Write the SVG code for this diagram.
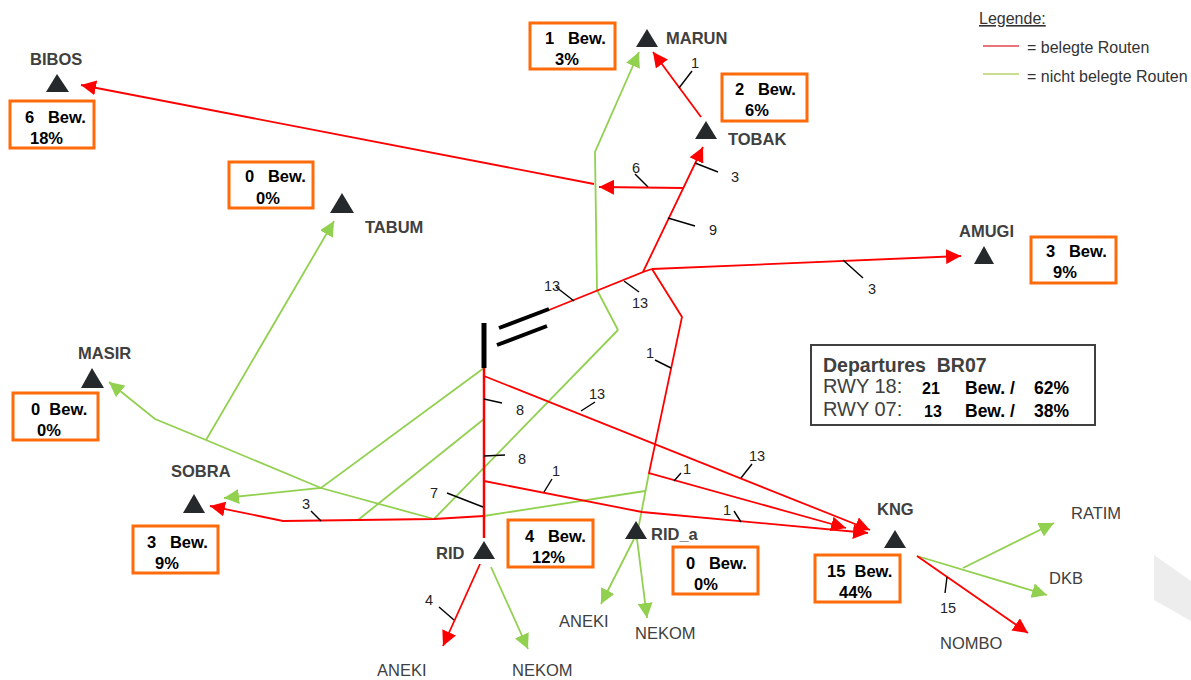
<svg xmlns="http://www.w3.org/2000/svg" width="1191" height="680" viewBox="0 0 1191 680">
<style>
text{font-family:"Liberation Sans",Arial,sans-serif;white-space:pre}
.r{fill:none;stroke:#ff0000;stroke-width:1.8}
.g{fill:none;stroke:#92d050;stroke-width:1.8}
.t{fill:none;stroke:#000;stroke-width:1.4}
.b{fill:#fff;stroke:#ff6a0a;stroke-width:3}
.tri{fill:#25292c}
.n{font-size:16.5px;font-weight:700;fill:#404040}
.w{font-size:16.5px;fill:#404040}
.k{font-size:14.5px;fill:#222}
.v{font-size:16.5px;font-weight:700;fill:#000}
.s{font-size:17.5px;font-weight:700;fill:#000}
.leg{font-size:16px;fill:#333}
.d{font-size:20px;fill:#404040}
</style>
<defs>
<marker id="ar" markerUnits="userSpaceOnUse" markerWidth="17" markerHeight="15" refX="15" refY="7.5" orient="auto"><path d="M0 0L15 7.5L0 15z" fill="#ff0000"/></marker>
<marker id="ag" markerUnits="userSpaceOnUse" markerWidth="17" markerHeight="15" refX="15" refY="7.5" orient="auto"><path d="M0 0L15 7.5L0 15z" fill="#92d050"/></marker>
</defs>
<polygon points="1154,555 1191,581 1191,621 1154,600" fill="#ededed"/>
<g id="connectors">
<g id="green-routes">
<polyline class="g" points="618,330 597,290 595,152 639,52" marker-end="url(#ag)"/>
<line class="g" x1="618" y1="330" x2="434" y2="519"/>
<polyline class="g" points="484,368 321,488 224,498" marker-end="url(#ag)"/>
<line class="g" x1="484" y1="419" x2="358" y2="520"/>
<polyline class="g" points="434,519 321,488 206,440 155,419 109,382" marker-end="url(#ag)"/>
<line class="g" x1="206" y1="440" x2="334" y2="221" marker-end="url(#ag)"/>
<line class="g" x1="484" y1="516" x2="645" y2="491"/>
<line class="g" x1="649" y1="473" x2="636" y2="540"/>
<line class="g" x1="634" y1="539" x2="601" y2="604" marker-end="url(#ag)"/>
<line class="g" x1="637" y1="539" x2="647" y2="618" marker-end="url(#ag)"/>
<line class="g" x1="491" y1="567" x2="528" y2="649" marker-end="url(#ag)"/>
<line class="g" x1="917" y1="556" x2="1047" y2="595" marker-end="url(#ag)"/>
<line class="g" x1="963" y1="568" x2="1054" y2="523" marker-end="url(#ag)"/>
</g>
<g id="red-routes">
<line class="r" x1="484" y1="368" x2="484" y2="538" style="stroke-width:2.5"/>
<line class="r" x1="484" y1="376" x2="870" y2="530" marker-end="url(#ar)"/>
<polyline class="r" points="484,481 642,512 868,533" marker-end="url(#ar)"/>
<polyline class="r" points="652,269 682,317 649,473 846,528" marker-end="url(#ar)"/>
<polyline class="r" points="549,310 643,272 703,147" marker-end="url(#ar)"/>
<line class="r" x1="643" y1="272" x2="652" y2="269"/>
<line class="r" x1="652" y1="269" x2="961" y2="256" marker-end="url(#ar)"/>
<line class="r" x1="683" y1="188" x2="599" y2="187" marker-end="url(#ar)"/>
<line class="r" x1="594" y1="184" x2="81" y2="85" marker-end="url(#ar)"/>
<line class="r" x1="701" y1="117" x2="653" y2="52" marker-end="url(#ar)"/>
<polyline class="r" points="484,516 434,519 283,521 210,506" marker-end="url(#ar)"/>
<line class="r" x1="480" y1="564" x2="443" y2="646" marker-end="url(#ar)"/>
<line class="r" x1="917" y1="556" x2="1028" y2="633" marker-end="url(#ar)"/>
</g>
<g id="ticks">
<line class="t" x1="679" y1="88" x2="692" y2="71"/>
<line class="t" x1="695" y1="163" x2="718" y2="172"/>
<line class="t" x1="668" y1="218" x2="695" y2="226"/>
<line class="t" x1="648" y1="187" x2="635" y2="174"/>
<line class="t" x1="843" y1="260" x2="863" y2="278"/>
<line class="t" x1="574" y1="301" x2="556" y2="287"/>
<line class="t" x1="624" y1="281" x2="639" y2="292"/>
<line class="t" x1="671" y1="368" x2="655" y2="360"/>
<line class="t" x1="484" y1="399" x2="502" y2="403"/>
<line class="t" x1="484" y1="456" x2="505" y2="455"/>
<line class="t" x1="483" y1="507" x2="447" y2="493"/>
<line class="t" x1="321" y1="521" x2="311" y2="511"/>
<line class="t" x1="544" y1="492" x2="552" y2="479"/>
<line class="t" x1="581" y1="411" x2="595" y2="402"/>
<line class="t" x1="741" y1="478" x2="752" y2="464"/>
<line class="t" x1="674" y1="481" x2="681" y2="473"/>
<line class="t" x1="741" y1="522" x2="734" y2="511"/>
<line class="t" x1="454" y1="620" x2="439" y2="607"/>
<line class="t" x1="947" y1="577" x2="945" y2="593"/>
</g>
<g id="runways" stroke="#000" fill="none">
<line x1="484" y1="323" x2="484" y2="368" stroke-width="5"/>
<line x1="499" y1="328" x2="549" y2="309" stroke-width="4"/>
<line x1="497" y1="345" x2="547" y2="326" stroke-width="4"/>
</g>
</g>
<g id="BIBOS"><text class="n" x="30" y="65">BIBOS</text><polygon class="tri" points="57,74 69,92 46,92"/><rect class="b" x="10" y="101" width="84" height="47"/><text class="v" x="25" y="123">6   Bew.</text><text class="v" x="30" y="144">18%</text></g>
<g id="MARUN"><text class="n" x="666" y="44">MARUN</text><polygon class="tri" points="647,29 658,47 636,47"/><rect class="b" x="530" y="23" width="85" height="46"/><text class="v" x="545" y="44">1   Bew.</text><text class="v" x="555" y="65">3%</text></g>
<g id="TOBAK"><text class="n" x="728" y="145">TOBAK</text><polygon class="tri" points="706,121 717,139 695,139"/><rect class="b" x="722" y="74" width="85" height="47"/><text class="v" x="735" y="95">2   Bew.</text><text class="v" x="745" y="116">6%</text></g>
<g id="TABUM"><text class="n" x="365" y="233">TABUM</text><polygon class="tri" points="342,193 354,213 330,213"/><rect class="b" x="229" y="162" width="84" height="46"/><text class="v" x="245" y="182">0   Bew.</text><text class="v" x="256" y="204">0%</text></g>
<g id="AMUGI"><text class="n" x="959" y="237">AMUGI</text><polygon class="tri" points="984,246 994,264 974,264"/><rect class="b" x="1031" y="237" width="85" height="46"/><text class="v" x="1046" y="257">3   Bew.</text><text class="v" x="1053" y="278">9%</text></g>
<g id="MASIR"><text class="n" x="78" y="359">MASIR</text><polygon class="tri" points="92,368 104,388 81,388"/><rect class="b" x="13" y="393" width="85" height="47"/><text class="v" x="31" y="415">0  Bew.</text><text class="v" x="37" y="436">0%</text></g>
<g id="SOBRA"><text class="n" x="171" y="477">SOBRA</text><polygon class="tri" points="194,494 205,513 183,513"/><rect class="b" x="133" y="526" width="85" height="47"/><text class="v" x="147" y="548">3   Bew.</text><text class="v" x="155" y="569">9%</text></g>
<g id="RID"><text class="n" x="436" y="559">RID</text><polygon class="tri" points="484,541 495,559 473,559"/><rect class="b" x="508" y="520" width="85" height="47"/><text class="v" x="525" y="542">4   Bew.</text><text class="v" x="532" y="563">12%</text></g>
<g id="RID_a"><text class="n" x="651" y="540">RID_a</text><polygon class="tri" points="636,521 647,539 625,539"/><rect class="b" x="673" y="547" width="85" height="47"/><text class="v" x="686" y="569">0   Bew.</text><text class="v" x="694" y="590">0%</text></g>
<g id="KNG"><text class="n" x="877" y="515">KNG</text><polygon class="tri" points="895,530 906,548 884,548"/><rect class="b" x="815" y="555" width="85" height="47"/><text class="v" x="827" y="577">15  Bew.</text><text class="v" x="839" y="598">44%</text></g>
<g id="labels">
<text class="w" x="1071" y="519">RATIM</text><text class="w" x="1049" y="584">DKB</text><text class="w" x="940" y="649">NOMBO</text>
<text class="w" x="559" y="627">ANEKI</text><text class="w" x="635" y="639">NEKOM</text><text class="w" x="377" y="676">ANEKI</text><text class="w" x="512" y="676">NEKOM</text>
<text class="k" x="691" y="68">1</text><text class="k" x="731" y="182">3</text><text class="k" x="709" y="235">9</text><text class="k" x="632" y="173">6</text><text class="k" x="868" y="294">3</text><text class="k" x="544" y="291">13</text><text class="k" x="632" y="308">13</text><text class="k" x="646" y="358">1</text>
<text class="k" x="516" y="415">8</text><text class="k" x="518" y="464">8</text><text class="k" x="430" y="498">7</text><text class="k" x="302" y="509">3</text><text class="k" x="552" y="476">1</text><text class="k" x="589" y="399">13</text><text class="k" x="749" y="461">13</text><text class="k" x="683" y="474">1</text><text class="k" x="723" y="515">1</text><text class="k" x="425" y="605">4</text><text class="k" x="940" y="613">15</text>
</g>
<g id="legend"><text class="leg" x="979" y="24" text-decoration="underline">Legende:</text><line x1="983" y1="46" x2="1019" y2="46" stroke="#e0464e" stroke-width="1.5"/><text class="leg" x="1027" y="53">= belegte Routen</text><line x1="983" y1="74" x2="1019" y2="74" stroke="#b5d56a" stroke-width="1.5"/><text class="leg" x="1027" y="82">= nicht belegte Routen</text></g>
<g id="summary"><rect x="811" y="345" width="284" height="80" fill="#fff" stroke="#404040" stroke-width="2"/><text x="823" y="372" style="font-size:19.5px;font-weight:700;fill:#404040">Departures  BR07</text><text class="d" x="823" y="393">RWY 18:</text><text class="d" x="823" y="416">RWY 07:</text>
<text class="s" x="922" y="394" style="font-size:16px">21</text><text class="s" x="965" y="394">Bew. /</text><text class="s" x="1034" y="394">62%</text><text class="s" x="924" y="417" style="font-size:16px">13</text><text class="s" x="965" y="417">Bew. /</text><text class="s" x="1034" y="417">38%</text></g>
</svg>
